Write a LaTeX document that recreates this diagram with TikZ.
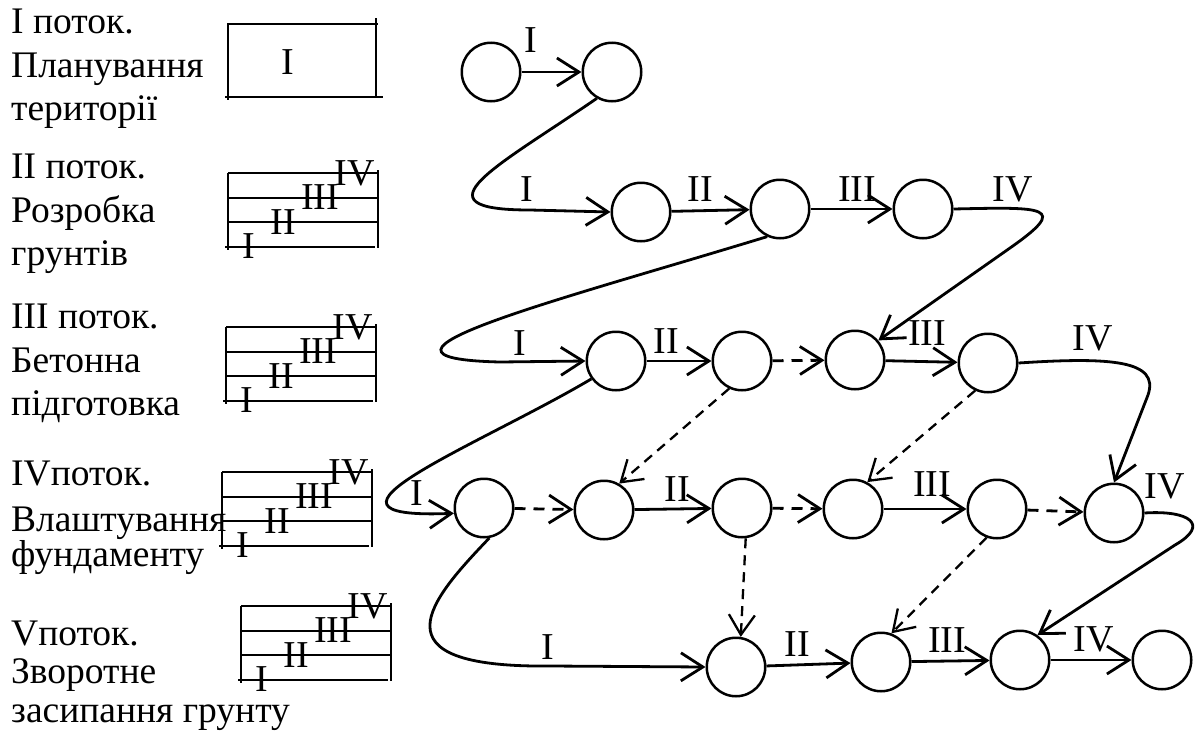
\documentclass[tikz,border=0pt]{standalone}
\usepackage{fontspec}
\setmainfont{Liberation Serif}
\usetikzlibrary{arrows.meta}
\newcommand\streambox[3]{%
  \draw[grid] (#2,#3) -- ({#2+150},#3);
  \draw[grid] (#2,{#3+24.5}) -- ({#2+150},{#3+24.5});
  \draw[grid] (#2,{#3+49}) -- ({#2+150},{#3+49});
  \draw[grid] ({#2-3},{#3+73.5}) -- ({#2+147},{#3+73.5});
  \draw[grid] (#2,#3) -- (#2,{#3+77});
  \draw[grid] ({#2+150},{#3-3}) -- ({#2+150},{#3+74.5});
  \node[lbl] (#1a) at ({#2+21},{#3+73.5}) {I};
  \node[lbl] (#1b) at ({#2+55},{#3+49}) {II};
  \node[lbl] (#1c) at ({#2+92},{#3+24.5}) {III};
  \node[lbl] (#1d) at ({#2+127},{#3}) {IV};
}
\begin{document}
\begin{tikzpicture}[x=1pt,y=-1pt,
  ev/.style={circle,draw,line width=2.5pt,minimum size=58.5pt,inner sep=0pt},
  arr/.style={line width=2.8pt,-{Straight Barb[length=22pt,width=28pt]}},
  darr/.style={arr,dash pattern=on 11pt off 8pt},
  ddiag/.style={line width=2.3pt,dash pattern=on 10pt off 7pt,-{Straight Barb[length=20pt,width=26pt]}},
  lbl/.style={font=\fontsize{38}{44}\selectfont,inner sep=0pt},
  txt/.style={font=\fontsize{37.5}{43}\selectfont,inner sep=0pt,anchor=base west},
  grid/.style={line width=2pt}]
\useasboundingbox (0,0) rectangle (1197,731);

% left texts
\node[txt] (t1a) at (11,33) {І поток.};
\node[txt] (t1b) at (11,77) {Планування};
\node[txt] (t1c) at (11,120) {території};
\node[txt] (t2a) at (11,178) {ІІ поток.};
\node[txt] (t2b) at (11,222) {Розробка};
\node[txt] (t2c) at (11,265) {грунтів};
\node[txt] (t3a) at (11,328) {ІІІ поток.};
\node[txt] (t3b) at (11,372) {Бетонна};
\node[txt] (t3c) at (11,415) {підготовка};
\node[txt] (t4a) at (11,485) {IVпоток.};
\node[txt] (t4b) at (11,531) {Влаштування};
\node[txt] (t4c) at (11,566) {фундаменту};
\node[txt] (t5a) at (11,645) {Vпоток.};
\node[txt] (t5b) at (11,683) {Зворотне};
\node[txt] (t5c) at (11,722) {засипання грунту};

% box 1
\draw[grid] (227,24) -- (378,24);
\draw[grid] (225,97) -- (383,97);
\draw[grid] (228,24) -- (228,100);
\draw[grid] (376,18) -- (376,97);
\node[lbl] (b1a) at (288,62) {I};
\streambox{bb}{228}{173}
\streambox{bc}{226}{327}
\streambox{bd}{222}{472}
\streambox{be}{241}{606}

% events
\node[ev] (n11) at (491,72) {};
\node[ev] (n12) at (612,72) {};
\node[ev] (n21) at (641,212) {};
\node[ev] (n22) at (780,209) {};
\node[ev] (n23) at (923,209) {};
\node[ev] (n31) at (616,361) {};
\node[ev] (n32) at (742,361) {};
\node[ev] (n33) at (855,360) {};
\node[ev] (n34) at (988,363) {};
\node[ev] (n41) at (484,508) {};
\node[ev] (n42) at (604,510) {};
\node[ev] (n43) at (742,508) {};
\node[ev] (n44) at (853,509) {};
\node[ev] (n45) at (997,509) {};
\node[ev] (n46) at (1114,513) {};
\node[ev] (n51) at (736,667) {};
\node[ev] (n52) at (881,662) {};
\node[ev] (n53) at (1020,660) {};
\node[ev] (n54) at (1162,660) {};

% row 1
\draw[arr] (n11) -- (n12);
% curves
\draw[arr] (n12.240) .. controls (500,165) and (410,210) .. (530,210) -- (n21.west);
\draw[arr] (n22.245) .. controls (560,300) and (330,358) .. (500,362) -- (n31.west);
\draw[arr] (n23.east) .. controls (1045,207) and (1070,206) .. (1010,248) -- (n33.40);
\draw[arr] (n34.east) .. controls (1110,357) and (1160,360) .. (1148,395) -- (n46.north);
\draw[arr] (n31.216) .. controls (480,445) and (285,520) .. (n41.190);
\draw[arr] (n41.280) .. controls (430,600) and (370,668) .. (550,666) -- (n51.west);
\draw[arr] (n46.east) .. controls (1190,510) and (1210,525) .. (1175,545) -- (n53.55);
% row 2
\draw[arr] (n21) -- (n22);
\draw[arr] (n22) -- (n23);
% row 3
\draw[arr] (n31) -- (n32);
\draw[darr] (n32) -- (n33);
\draw[arr] (n33) -- (n34);
% row 4
\draw[darr] (n41) -- (n42);
\draw[arr] (n42) -- (n43);
\draw[darr] (n43) -- (n44);
\draw[arr] (n44) -- (n45);
\draw[darr] (n45) -- (n46);
% row 5
\draw[arr] (n51) -- (n52);
\draw[arr] (n52) -- (n53);
\draw[arr] (n53) -- (n54);
% dashed diagonals
\draw[ddiag] (n32.245) -- (n42.60);
\draw[ddiag] (n34.245) -- (n44.62);
\draw[ddiag] (n43.277) -- (n51.81);
\draw[ddiag] (n45.250) -- (n52.70);

% labels
\node[lbl] (l11) at (531,40) {I};
\node[lbl] (l21) at (527,189) {I};
\node[lbl] (l22) at (700,189) {II};
\node[lbl] (l23) at (857,189) {III};
\node[lbl] (l24) at (1013,189) {IV};
\node[lbl] (l31) at (520,343) {I};
\node[lbl] (l32) at (666,341) {II};
\node[lbl] (l33) at (927,333) {III};
\node[lbl] (l34) at (1093,338) {IV};
\node[lbl] (l41) at (417,493) {I};
\node[lbl] (l42) at (677,489) {II};
\node[lbl] (l43) at (932,484) {III};
\node[lbl] (l44) at (1165,486) {IV};
\node[lbl] (l51) at (548,647) {I};
\node[lbl] (l52) at (797,644) {II};
\node[lbl] (l53) at (947,640) {III};
\node[lbl] (l54) at (1094,639) {IV};
\end{tikzpicture}
\end{document}
